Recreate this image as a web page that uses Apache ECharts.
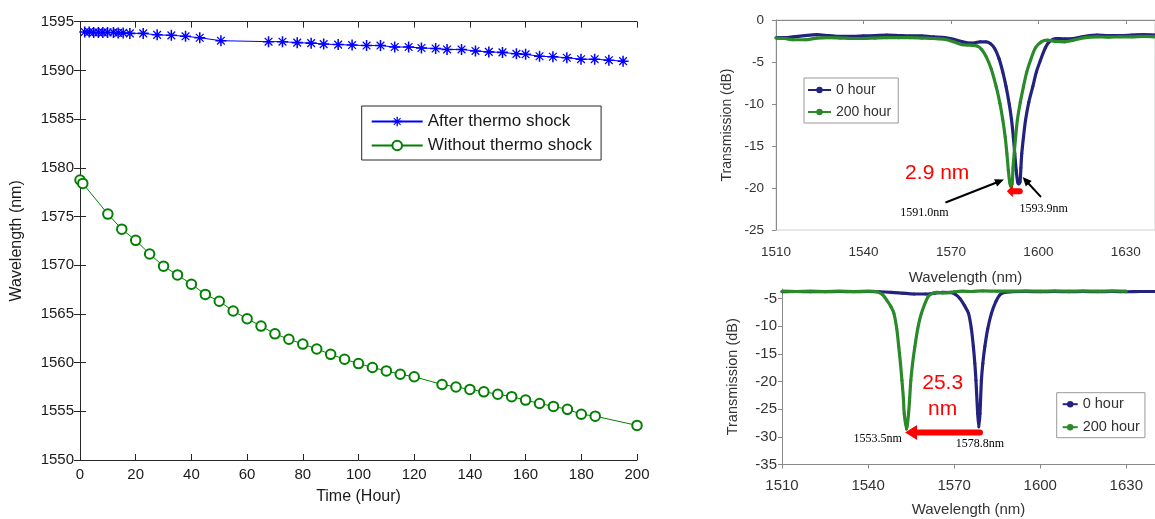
<!DOCTYPE html>
<html><head><meta charset="utf-8">
<script src="https://cdn.jsdelivr.net/npm/echarts@6/dist/echarts.min.js"></script>
<style>html,body{margin:0;padding:0;background:#fff}#c{width:1155px;height:519px}</style>
</head><body><div id="c"></div>
<script>
// ---- Left panel: resonance wavelength vs time ----
const timeAfter = [1.7,3.3,4.9,6.6,8.2,9.9,12,13.7,15.5,17.9,22.7,27.7,32.8,37.9,43,50.6,67.7,72.7,78,83,87.5,92.7,97.7,102.9,107.9,113,118,122.6,127.7,131.8,137,142,146.8,151.7,156.7,160,165,169.8,174.8,179.9,184.8,189.9,195];
const wlAfter = [1593.95,1593.95,1593.9,1593.9,1593.9,1593.9,1593.9,1593.85,1593.85,1593.8,1593.8,1593.65,1593.6,1593.5,1593.35,1593.05,1592.95,1592.95,1592.85,1592.8,1592.7,1592.65,1592.6,1592.55,1592.55,1592.4,1592.4,1592.3,1592.25,1592.15,1592.15,1592.0,1591.9,1591.85,1591.7,1591.65,1591.45,1591.4,1591.3,1591.15,1591.15,1591.05,1590.95];
const timeWithout = [0,1,10,15,20,25,30,35,40,45,50,55,60,65,70,75,80,85,90,95,100,105,110,115,120,130,135,140,145,150,155,160,165,170,175,180,185,200];
const wlWithout = [1578.75,1578.4,1575.25,1573.7,1572.55,1571.15,1569.9,1569.0,1568.05,1567.0,1566.3,1565.3,1564.5,1563.75,1562.95,1562.4,1561.9,1561.4,1560.85,1560.35,1559.9,1559.5,1559.15,1558.8,1558.55,1557.75,1557.5,1557.25,1557.0,1556.75,1556.5,1556.15,1555.8,1555.5,1555.2,1554.7,1554.5,1553.55];
const timeTicks = [0,20,40,60,80,100,120,140,160,180,200];
const wlTicks = [1550,1555,1560,1565,1570,1575,1580,1585,1590,1595];

// ---- Top-right panel: spectra after thermo shock ----
const topWl0 = [1510,1513,1516,1520,1524,1528,1532,1536,1540,1544,1548,1552,1556,1560,1564,1568,1571,1574,1577,1580,1582,1583.5,1585,1586.5,1587.8,1588.9,1590,1590.8,1591.4,1591.9,1592.4,1592.9,1593.3,1593.7,1594.0,1594.3,1594.9,1595.6,1596.7,1598.1,1599.3,1600.7,1602.4,1604,1606,1609,1612,1616,1620,1624,1628,1632,1636,1640];
const topDb0 = [-2.1,-2.1,-2.0,-1.85,-1.75,-1.85,-1.95,-1.95,-1.9,-1.85,-1.8,-1.85,-1.9,-1.9,-2.0,-2.1,-2.3,-2.6,-2.75,-2.6,-2.6,-2.8,-3.4,-4.6,-6.2,-7.9,-10.0,-11.9,-13.9,-15.9,-17.9,-19.3,-19.5,-19.3,-17.6,-15.9,-13.9,-11.9,-9.8,-7.9,-6.2,-4.8,-3.3,-2.5,-2.2,-2.25,-2.2,-1.95,-1.8,-1.85,-1.85,-1.8,-1.75,-1.8];
const topWl200 = [1510,1513,1516,1520,1524,1528,1532,1536,1540,1544,1548,1552,1556,1560,1564,1568,1571,1574,1577,1579,1580.5,1582,1583.8,1585.5,1586.8,1587.8,1588.6,1589.2,1589.7,1590.2,1590.6,1591.0,1591.3,1591.7,1592.2,1592.8,1593.8,1594.9,1596,1597.3,1599,1601,1603,1606,1609,1612,1616,1620,1624,1628,1632,1636,1640];
const topDb200 = [-2.15,-2.2,-2.35,-2.35,-2.15,-2.1,-2.15,-2.2,-2.2,-2.15,-2.1,-2.1,-2.1,-2.15,-2.2,-2.3,-2.6,-2.95,-3.0,-3.1,-3.5,-4.3,-5.8,-7.9,-9.9,-11.9,-13.9,-15.9,-17.9,-19.4,-19.8,-19.5,-17.6,-15.9,-13.9,-11.9,-9.8,-7.9,-6.2,-4.8,-3.3,-2.6,-2.4,-2.55,-2.6,-2.4,-2.1,-2.0,-2.05,-2.0,-2.0,-1.95,-2.0];

// ---- Bottom-right panel: spectra without thermo shock ----
const botWl0 = [1510,1515,1520,1525,1530,1535,1540,1544,1548,1552,1556,1560,1563,1566,1569,1570.5,1572,1573.5,1575,1576,1576.7,1577.2,1577.6,1578.2,1578.6,1579,1579.5,1580,1580.7,1581.7,1583,1584.6,1586,1587.5,1590,1595,1600,1605,1610,1615,1620,1625,1630,1635,1640];
const botDb0 = [-3.8,-3.75,-3.8,-3.8,-3.75,-3.8,-3.75,-3.8,-3.9,-4.05,-4.2,-4.2,-4.05,-3.9,-3.95,-4.3,-5.0,-6.2,-7.7,-10.5,-13.7,-16.7,-19.8,-25.8,-28.2,-25.8,-19.8,-16.7,-13.7,-10.5,-7.7,-5.5,-4.3,-3.9,-3.8,-3.75,-3.8,-3.75,-3.8,-3.75,-3.8,-3.75,-3.8,-3.75,-3.75];
const botWl200 = [1510,1515,1520,1525,1530,1535,1540,1543,1545,1546.5,1548,1549,1550,1550.7,1551.3,1551.8,1552.3,1552.6,1553.4,1554.1,1554.5,1554.9,1555.5,1556.3,1557.3,1558.6,1560.9,1562.5,1564,1566,1568,1570,1573,1576,1580,1585,1590,1595,1600,1605,1610,1615,1620,1625,1630,1635,1640];
const botDb200 = [-3.7,-3.75,-3.7,-3.75,-3.7,-3.75,-3.7,-3.8,-4.3,-5.3,-6.5,-7.7,-10.5,-13.75,-16.8,-19.8,-23,-25.8,-28.6,-25.8,-23,-19.8,-16.8,-13.75,-10.5,-7.7,-4.7,-4.1,-3.9,-4.0,-3.95,-3.8,-3.7,-3.75,-3.65,-3.7,-3.7,-3.65,-3.7,-3.65,-3.7,-3.65,-3.7,-3.65,-3.7];

const specTicks = [1510,1540,1570,1600,1630];

// ---- Annotations (data coordinates) ----
const topTexts = [
  {text:'2.9 nm', at:[1565.3,-18.2], font:'21px "Liberation Sans", Arial, sans-serif', color:'#ff0000'},
  {text:'1591.0nm', at:[1560.9,-22.9], font:'12px "Liberation Serif", "Times New Roman", serif', color:'#000'},
  {text:'1593.9nm', at:[1601.8,-22.5], font:'12px "Liberation Serif", "Times New Roman", serif', color:'#000'}
];
const topArrows = [
  {from:[1568.4,-21.7], to:[1588.2,-19.0], color:'#000', w:2, head:[9,8]},
  {from:[1600.7,-21.0], to:[1594.6,-18.7], color:'#000', w:2, head:[9,8]},
  {from:[1593.6,-20.4], to:[1589.2,-20.4], color:'#ff0000', w:6, head:[6,12]}
];
const botTexts = [
  {text:'25.3', at:[1566.0,-20.4], font:'21px "Liberation Sans", Arial, sans-serif', color:'#ff0000'},
  {text:'nm', at:[1566.0,-25.1], font:'21px "Liberation Sans", Arial, sans-serif', color:'#ff0000'},
  {text:'1553.5nm', at:[1543.3,-30.3], font:'12px "Liberation Serif", "Times New Roman", serif', color:'#000'},
  {text:'1578.8nm', at:[1579.0,-31.2], font:'12px "Liberation Serif", "Times New Roman", serif', color:'#000'}
];
const botArrows = [
  {from:[1579.0,-29.2], to:[1552.9,-29.2], color:'#ff0000', w:6, head:[12,15]}
];

const zip = (a,b) => a.map((v,i)=>[v,b[i]]);
const NAVY = '#23237f', GREEN2 = '#2a8a2a';
const F = '"Liberation Sans", Arial, Helvetica, sans-serif';
const ASTER = 'path://M-0.14,-1H0.14V1H-0.14Z M-1,-0.14H1V0.14H-1Z M-0.62,-0.78L0.78,0.62L0.62,0.78L-0.78,-0.62Z M0.62,-0.78L0.78,-0.62L-0.62,0.78L-0.78,0.62Z M-0.3,-0.3H0.3V0.3H-0.3Z';

const chart = echarts.init(document.getElementById('c'), null, {renderer:'canvas'});

const leftAxisCommon = {axisLine:{show:true, lineStyle:{color:'#262626', width:1}}, axisTick:{show:true, inside:true, length:6, lineStyle:{color:'#262626'}}, splitLine:{show:false}};
const specX = (grid, labelSize, margin, gap) => ({type:'value', gridIndex:grid, min:1510, max:1640, interval:30,
  name:'Wavelength (nm)', nameLocation:'middle', nameGap:gap, nameTextStyle:{fontFamily:F, fontSize:15, color:'#333'},
  axisLine:{lineStyle:{color:'#8a8a8a'}}, axisTick:{show:true, length:4, lineStyle:{color:'#8a8a8a'}},
  axisLabel:{fontFamily:F, fontSize:labelSize, color:'#333', margin:margin, showMaxLabel:false,
    formatter: v => specTicks.includes(v) ? String(v) : ''}, splitLine:{show:false}});

chart.setOption({
  animation:false,
  backgroundColor:'#fff',
  grid:[
    {left:80, top:21.7, right:518, bottom:59, show:false},
    {left:776, top:20, right:-6.7, bottom:289, show:true, borderColor:'#d0d0d0', borderWidth:1, backgroundColor:'transparent'},
    {left:782, top:289, right:-9.6, bottom:54.5, show:false}
  ],
  xAxis:[
    Object.assign({type:'value', gridIndex:0, min:0, max:200, interval:20, position:'bottom',
      name:'Time (Hour)', nameLocation:'middle', nameGap:29, nameTextStyle:{fontFamily:F, fontSize:16, color:'#1a1a1a'},
      axisLabel:{fontFamily:F, fontSize:15, color:'#1a1a1a', margin:7, formatter: v => timeTicks.includes(v) ? String(v) : ''}}, leftAxisCommon),
    Object.assign({type:'value', gridIndex:0, min:0, max:200, interval:20, position:'top', axisLabel:{show:false}}, leftAxisCommon),
    specX(1, 13.5, 15, 40),
    specX(2, 15, 14, 38)
  ],
  yAxis:[
    Object.assign({type:'value', gridIndex:0, min:1550, max:1595, interval:5, position:'left',
      name:'Wavelength (nm)', nameLocation:'middle', nameGap:55, nameTextStyle:{fontFamily:F, fontSize:16, color:'#1a1a1a'},
      axisLabel:{fontFamily:F, fontSize:15, color:'#1a1a1a', margin:6, formatter: v => wlTicks.includes(v) ? String(v) : ''}}, leftAxisCommon),
    Object.assign({type:'value', gridIndex:0, min:1550, max:1595, interval:5, position:'right', axisLabel:{show:false}}, leftAxisCommon),
    {type:'value', gridIndex:1, min:-25, max:0, interval:5,
      name:'Transmission (dB)', nameLocation:'middle', nameGap:42, nameTextStyle:{fontFamily:F, fontSize:14, color:'#333'},
      axisLine:{show:true, lineStyle:{color:'#8a8a8a'}}, axisTick:{show:true, length:4, lineStyle:{color:'#8a8a8a'}},
      axisLabel:{fontFamily:F, fontSize:13.5, color:'#333', margin:12}, splitLine:{show:false}},
    {type:'value', gridIndex:2, min:-35, max:-3.3, interval:5,
      name:'Transmission (dB)', nameLocation:'middle', nameGap:42, nameTextStyle:{fontFamily:F, fontSize:14.5, color:'#333'},
      axisLine:{show:true, lineStyle:{color:'#8a8a8a'}}, axisTick:{show:true, length:4, lineStyle:{color:'#8a8a8a'}},
      axisLabel:{fontFamily:F, fontSize:15, color:'#333', margin:5, showMaxLabel:false}, splitLine:{show:false}}
  ],
  legend:[
    {orient:'vertical', left:361.7, top:106, padding:[7,9,6,9], itemWidth:51, itemHeight:12, itemGap:7,
      borderColor:'#262626', borderWidth:1, backgroundColor:'#fff', selectedMode:false,
      textStyle:{fontFamily:F, fontSize:17, color:'#1a1a1a', padding:[0,0,0,0]},
      data:['After thermo shock','Without thermo shock']},
    {orient:'vertical', left:804, top:78, padding:[5,7,4,3], itemWidth:23, itemHeight:8, itemGap:8,
      borderColor:'#999', borderWidth:1, backgroundColor:'#fff', selectedMode:false,
      textStyle:{fontFamily:F, fontSize:14, color:'#333'},
      data:['0 hour','200 hour']},
    {orient:'vertical', left:1056.7, top:392.7, padding:[4,5,3,5], itemWidth:15, itemHeight:8, itemGap:8,
      borderColor:'#999', borderWidth:1, backgroundColor:'#fff', selectedMode:false,
      textStyle:{fontFamily:F, fontSize:14.5, color:'#333'},
      data:['0 hour','200 hour']}
  ],
  series:[
    {name:'After thermo shock', type:'line', xAxisIndex:0, yAxisIndex:0, data:zip(timeAfter, wlAfter),
      symbol:ASTER, symbolSize:11, lineStyle:{color:'#0000ff', width:1}, itemStyle:{color:'#0000ff'}, z:3},
    {name:'Without thermo shock', type:'line', xAxisIndex:0, yAxisIndex:0, data:zip(timeWithout, wlWithout),
      symbol:'emptyCircle', symbolSize:9.5, lineStyle:{color:'#008000', width:1}, itemStyle:{color:'#008000', borderColor:'#008000', borderWidth:1}, z:3},
    {name:'0 hour', type:'line', xAxisIndex:2, yAxisIndex:2, data:zip(topWl0, topDb0), smooth:0.3,
      symbol:'circle', symbolSize:3, lineStyle:{color:NAVY, width:3.2}, itemStyle:{color:NAVY}, z:3},
    {name:'200 hour', type:'line', xAxisIndex:2, yAxisIndex:2, data:zip(topWl200, topDb200), smooth:0.3,
      symbol:'circle', symbolSize:3, lineStyle:{color:GREEN2, width:3.2}, itemStyle:{color:GREEN2}, z:4},
    {name:'0 hour', type:'line', xAxisIndex:3, yAxisIndex:3, data:zip(botWl0, botDb0), smooth:0.3,
      symbol:'circle', symbolSize:3, lineStyle:{color:NAVY, width:3.2}, itemStyle:{color:NAVY}, z:3},
    {name:'200 hour', type:'line', xAxisIndex:3, yAxisIndex:3, data:zip(botWl200, botDb200), smooth:0.3,
      symbol:'circle', symbolSize:3, lineStyle:{color:GREEN2, width:3.2}, itemStyle:{color:GREEN2}, z:4}
  ]
});

function toPx(idx, p){ return chart.convertToPixel({xAxisIndex:idx, yAxisIndex:idx}, p); }
function arrowEls(idx, a){
  const s = toPx(idx, a.from), e = toPx(idx, a.to);
  const dx = e[0]-s[0], dy = e[1]-s[1], L = Math.hypot(dx,dy), ux = dx/L, uy = dy/L;
  const hl = a.head[0], hw = a.head[1]/2;
  const bx = e[0]-ux*hl, by = e[1]-uy*hl;
  return [
    {type:'line', shape:{x1:s[0], y1:s[1], x2:bx+ux*1, y2:by+uy*1}, style:{stroke:a.color, lineWidth:a.w, lineCap:'round'}, z:100},
    {type:'polygon', shape:{points:[[e[0],e[1]],[bx-uy*hw, by+ux*hw],[bx+uy*hw, by-ux*hw]]}, style:{fill:a.color}, z:100}
  ];
}
function textEl(idx, t){
  const p = toPx(idx, t.at);
  return {type:'text', x:p[0], y:p[1], z:100, style:{text:t.text, font:t.font, fill:t.color, align:'center', verticalAlign:'middle'}};
}
const g = [];
topTexts.forEach(t=>g.push(textEl(2,t)));
topArrows.forEach(a=>g.push(...arrowEls(2,a)));
botTexts.forEach(t=>g.push(textEl(3,t)));
botArrows.forEach(a=>g.push(...arrowEls(3,a)));
chart.setOption({graphic:{elements:g}});
</script>
</body></html>
